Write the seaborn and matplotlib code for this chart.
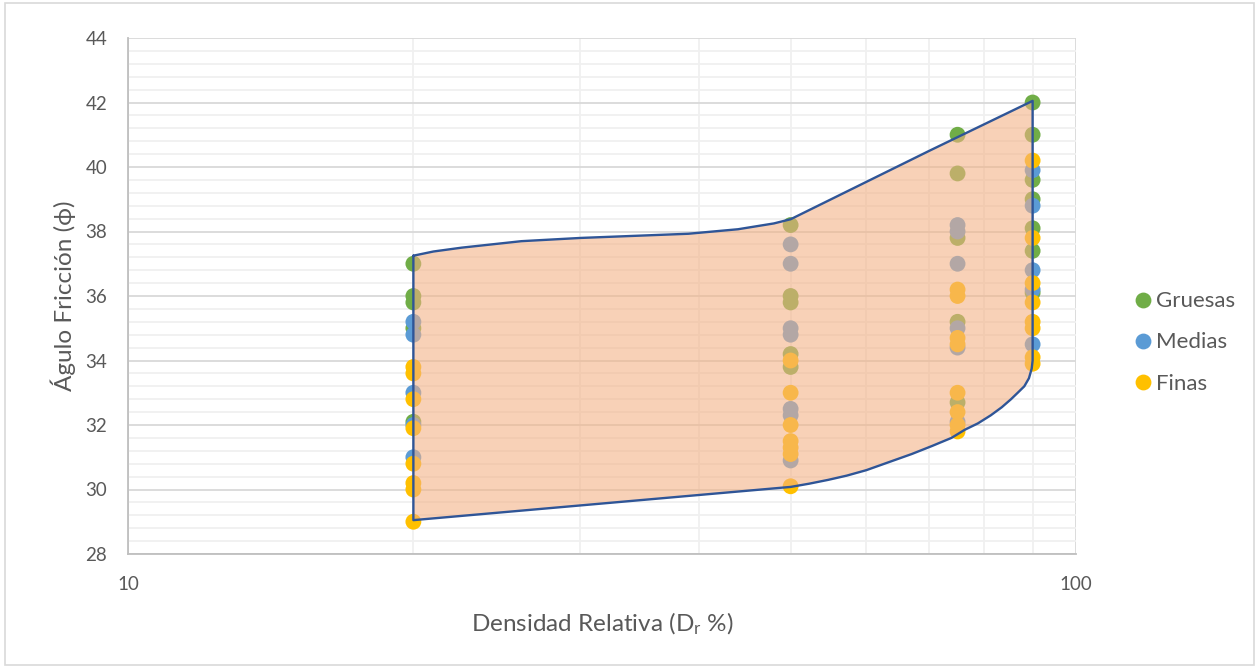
import numpy as np
import pandas as pd
import matplotlib as mpl
import matplotlib.pyplot as plt
from matplotlib.ticker import MultipleLocator, LogLocator, NullFormatter
from matplotlib.patches import Rectangle
import seaborn as sns

# Data
dr_gruesas = [20, 20, 20, 20, 20,
              50, 50, 50, 50, 50,
              75, 75, 75, 75, 75,
              90, 90, 90, 90, 90, 90, 90]
phi_gruesas = [37.0, 36.0, 35.8, 35.0, 32.1,
               38.2, 36.0, 35.8, 34.2, 33.8,
               41.0, 39.8, 37.8, 35.2, 32.7,
               42.0, 41.0, 39.6, 39.0, 38.1, 37.4, 36.1]

dr_medias = [20, 20, 20, 20, 20,
             50, 50, 50, 50, 50, 50, 50,
             75, 75, 75, 75, 75, 75,
             90, 90, 90, 90, 90]
phi_medias = [35.2, 34.8, 33.0, 32.0, 31.0,
              37.6, 37.0, 35.0, 34.8, 32.5, 32.3, 30.9,
              38.2, 38.0, 37.0, 35.0, 34.4, 32.1,
              39.9, 38.8, 36.8, 36.2, 34.5]

dr_finas = [20, 20, 20, 20, 20, 20, 20, 20,
            50, 50, 50, 50, 50, 50, 50,
            75, 75, 75, 75, 75, 75, 75, 75,
            90, 90, 90, 90, 90, 90, 90, 90]
phi_finas = [33.8, 33.6, 32.8, 31.9, 30.8, 30.2, 30.0, 29.0,
             34.0, 33.0, 32.0, 31.5, 31.3, 31.1, 30.1,
             36.2, 36.0, 34.7, 34.5, 33.0, 32.4, 32.0, 31.8,
             40.2, 37.8, 36.4, 35.8, 35.2, 35.0, 34.1, 33.9]

# envelope (closed boundary)
env_dr = [20, 21, 22.5, 26, 30, 39, 44, 48, 50, 70, 90,
          90, 89.8, 89.2, 88.2, 86.8, 85.4, 83.5, 81.3, 78.8, 76.3, 73.9,
          70.5, 67.1, 63.5, 60.1, 57.3, 54.8, 52.3, 50,
          20, 20]
env_phi = [37.25, 37.38, 37.5, 37.7, 37.8, 37.93, 38.07, 38.25, 38.38, 40.5, 42.05,
           34.0, 33.75, 33.45, 33.2, 33.0, 32.8, 32.55, 32.3, 32.05, 31.85, 31.6,
           31.35, 31.1, 30.85, 30.6, 30.43, 30.3, 30.18, 30.08,
           29.05, 37.25]

series = ['Gruesas', 'Medias', 'Finas']
colors = ['#70AD47', '#5B9BD5', '#FFC000']

df = pd.concat([
    pd.DataFrame({'dr': dr_gruesas, 'phi': phi_gruesas, 'serie': 'Gruesas'}),
    pd.DataFrame({'dr': dr_medias, 'phi': phi_medias, 'serie': 'Medias'}),
    pd.DataFrame({'dr': dr_finas, 'phi': phi_finas, 'serie': 'Finas'}),
], ignore_index=True)

sns.set_style('white')
plt.rcParams['font.family'] = ['Lato', 'DejaVu Sans']
plt.rcParams['mathtext.fontset'] = 'custom'
plt.rcParams['mathtext.rm'] = 'Lato'
plt.rcParams['mathtext.it'] = 'Lato:italic'

text_c = '#595959'

fig = plt.figure(figsize=(12.59, 6.68), dpi=100)
ax = fig.add_axes([128 / 1259, 1 - 554 / 668, (1076 - 128) / 1259, (554 - 38) / 668])

sns.scatterplot(data=df, x='dr', y='phi', hue='serie', hue_order=series,
                palette=colors, s=130, linewidth=0, ax=ax, zorder=3)

ax.fill(env_dr, env_phi, facecolor='#F4B183', alpha=0.58, edgecolor='none',
        zorder=4)
ax.plot(env_dr, env_phi, color='#2F5597', lw=1.7, zorder=5,
        solid_joinstyle='round')

ax.set_xscale('log')
ax.set_xlim(10, 100)
ax.set_ylim(28, 44)

ax.set_xticks([10, 100])
ax.set_xticklabels(['10', '100'])
ax.xaxis.set_minor_locator(LogLocator(base=10, subs=np.arange(2, 10)))
ax.xaxis.set_minor_formatter(NullFormatter())
ax.yaxis.set_major_locator(MultipleLocator(2))
ax.yaxis.set_minor_locator(MultipleLocator(0.4))

ax.grid(True, which='major', color='#D9D9D9', lw=1.3, zorder=0)
ax.grid(True, which='minor', color='#F0F0F0', lw=1.3, zorder=0)
ax.set_axisbelow(True)

for side in ['top', 'right']:
    ax.spines[side].set_visible(False)
for side in ['left', 'bottom']:
    ax.spines[side].set_color('#BFBFBF')
    ax.spines[side].set_linewidth(1.3)

ax.tick_params(axis='both', which='major', length=6, color='#BFBFBF',
               labelsize=13.5, labelcolor=text_c, direction='out')
ax.tick_params(axis='both', which='minor', length=0)
ax.tick_params(axis='x', pad=10)
ax.tick_params(axis='y', pad=9)

ax.set_xlabel(r'Densidad Relativa (D$_\mathrm{r}$ %)', fontsize=17.5,
              color=text_c, labelpad=13)
ax.set_ylabel('Águlo Fricción (ϕ)', fontsize=17.5, color=text_c, labelpad=7)

handles, labels = ax.get_legend_handles_labels()
ax.legend(handles, labels, loc='center left', bbox_to_anchor=(1.05, 0.41),
          frameon=False, fontsize=16, labelcolor=text_c, handletextpad=0.05,
          handlelength=1.0, labelspacing=0.95, borderaxespad=0)

fig.patches.append(Rectangle((0.004, 0.004), 0.992, 0.992,
                             transform=fig.transFigure, fill=False,
                             edgecolor='#D9D9D9', lw=1.2))

fig.savefig('out.png', dpi=100)
